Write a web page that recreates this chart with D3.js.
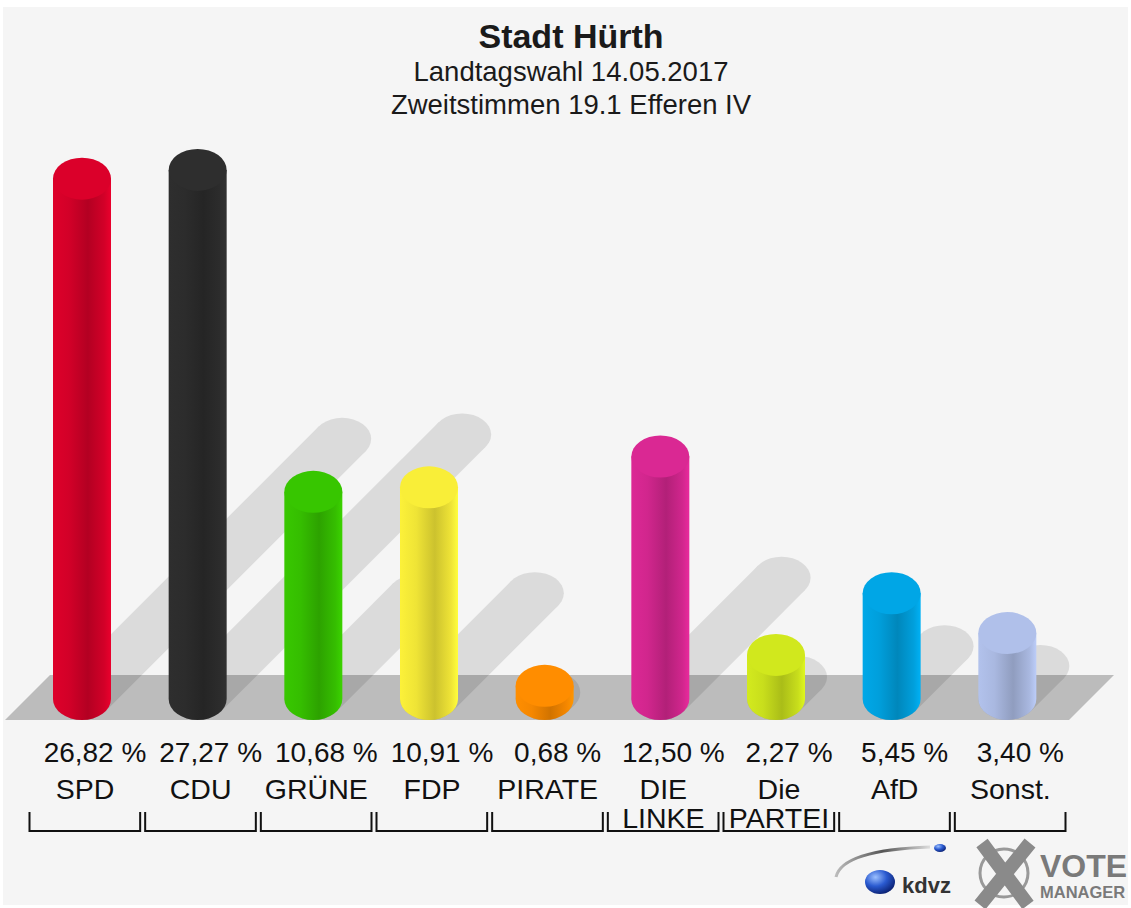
<!DOCTYPE html>
<html>
<head>
<meta charset="utf-8">
<script src="https://cdn.jsdelivr.net/npm/d3@7"></script>
<style>
  html, body { margin: 0; padding: 0; background: #ffffff; }
  svg { display: block; }
  text { font-family: "Liberation Sans", Arial, sans-serif; }
</style>
</head>
<body>
<svg id="chart" width="1131" height="908"></svg>
<script>
// ---- data ----
const parties = ["SPD", "CDU", "GRÜNE", "FDP", "PIRATE", "DIE LINKE", "Die PARTEI", "AfD", "Sonst."];
const labelLines = [["SPD"], ["CDU"], ["GRÜNE"], ["FDP"], ["PIRATE"], ["DIE", "LINKE"], ["Die", "PARTEI"], ["AfD"], ["Sonst."]];
const values = [26.82, 27.27, 10.68, 10.91, 0.68, 12.50, 2.27, 5.45, 3.40];
const colors = ["#d20028", "#2c2c2c", "#35be00", "#efe436", "#f58700", "#d1268d", "#c8de1c", "#009fdc", "#a9b8e0"];
const title = "Stadt Hürth";
const subtitles = ["Landtagswahl 14.05.2017", "Zweitstimmen 19.1 Efferen IV"];

const svg = d3.select("#chart");
const W = 1131, H = 908;

// background panel
svg.append("rect").attr("x", 0).attr("y", 0).attr("width", W).attr("height", H).attr("fill", "#ffffff");
svg.append("rect").attr("x", 3).attr("y", 7).attr("width", 1125).attr("height", 898).attr("fill", "#f5f5f5");

// titles
svg.append("text").attr("x", 571).attr("y", 48).attr("text-anchor", "middle")
  .attr("font-size", 34).attr("font-weight", "bold").attr("fill", "#1a1a1a").text(title);
subtitles.forEach((s, i) => {
  svg.append("text").attr("x", 571).attr("y", 81 + i * 33).attr("text-anchor", "middle")
    .attr("font-size", 27.5).attr("fill", "#1a1a1a").text(s);
});

// scales
const x = d3.scaleBand().domain(parties).range([29, 1070]).padding(0);
const bw = x.bandwidth();
const yBase = 699;
const y = d3.scaleLinear().domain([0, 30]).range([yBase, yBase - 30 * 19.4]);
const rx = 29, ry = 21;
const cx = d => x(d) + 53;

// floor
const floorTop = 675, floorBot = 720;
svg.append("path")
  .attr("d", `M5,${floorBot} L50,${floorTop} L1114,${floorTop} L1069,${floorBot} Z`)
  .attr("fill", "#bcbcbc");

// shadows (45 deg, half height)
const defs = svg.append("defs");
const shadowG = svg.append("g").attr("opacity", 0.1);
const t0 = Math.atan(ry / rx);
const px = rx * Math.cos(t0), py = ry * Math.sin(t0);
parties.forEach((p, i) => {
  const c = cx(p);
  const h = yBase - y(values[i]);
  const d = 0.5 * h;
  const ex = c + d, ey = yBase - d;
  shadowG.append("ellipse").attr("cx", c).attr("cy", yBase).attr("rx", rx).attr("ry", ry).attr("fill", "#000");
  shadowG.append("ellipse").attr("cx", ex).attr("cy", ey).attr("rx", rx).attr("ry", ry).attr("fill", "#000");
  shadowG.append("path")
    .attr("d", `M${c + px},${yBase + py} L${ex + px},${ey + py} L${ex - px},${ey - py} L${c - px},${yBase - py} Z`)
    .attr("fill", "#000");
});

// gradients
parties.forEach((p, i) => {
  const base = d3.color(colors[i]);
  const g = defs.append("linearGradient").attr("id", "grad" + i)
    .attr("x1", 0).attr("x2", 1).attr("y1", 0).attr("y2", 0);
  g.append("stop").attr("offset", 0).attr("stop-color", base.brighter(0.15));
  g.append("stop").attr("offset", 0.28).attr("stop-color", base);
  g.append("stop").attr("offset", 0.6).attr("stop-color", base.darker(0.45));
  g.append("stop").attr("offset", 0.88).attr("stop-color", base);
  g.append("stop").attr("offset", 1).attr("stop-color", base.brighter(0.3));
});

// cylinders
parties.forEach((p, i) => {
  const c = cx(p);
  const yt = y(values[i]);
  svg.append("path")
    .attr("d", `M${c - rx},${yt} L${c - rx},${yBase} A${rx},${ry} 0 0 0 ${c + rx},${yBase} L${c + rx},${yt} Z`)
    .attr("fill", `url(#grad${i})`);
  svg.append("ellipse").attr("cx", c).attr("cy", yt).attr("rx", rx).attr("ry", ry)
    .attr("fill", d3.color(colors[i]).brighter(0.12));
});

// value labels
parties.forEach((p, i) => {
  svg.append("text").attr("x", x(p) + 66).attr("y", 762).attr("text-anchor", "middle")
    .attr("font-size", 28).attr("fill", "#111")
    .text(values[i].toFixed(2).replace(".", ",") + " %");
});

// category labels
parties.forEach((p, i) => {
  labelLines[i].forEach((ln, j) => {
    svg.append("text").attr("x", x(p) + 56).attr("y", 799 + j * 29).attr("text-anchor", "middle")
      .attr("font-size", 28.5).attr("fill", "#111").text(ln);
  });
});

// brackets
parties.forEach(p => {
  const a = x(p) + 0.5, b = x(p) + bw - 4.5;
  svg.append("path").attr("d", `M${a},812 L${a},831 L${b},831 L${b},812`)
    .attr("fill", "none").attr("stroke", "#111").attr("stroke-width", 2);
});

// logos
const lg = svg.append("g");
const sg = defs.append("linearGradient").attr("id", "swoosh").attr("x1", 0).attr("x2", 1);
sg.append("stop").attr("offset", 0).attr("stop-color", "#bbb");
sg.append("stop").attr("offset", 0.5).attr("stop-color", "#555");
sg.append("stop").attr("offset", 1).attr("stop-color", "#ddd");
lg.append("path").attr("d", "M836,877 Q842,850 930,847").attr("fill", "none")
  .attr("stroke", "url(#swoosh)").attr("stroke-width", 3);
const rg = defs.append("radialGradient").attr("id", "sphere").attr("cx", 0.35).attr("cy", 0.3).attr("r", 0.75);
rg.append("stop").attr("offset", 0).attr("stop-color", "#9cc0ff");
rg.append("stop").attr("offset", 0.5).attr("stop-color", "#2a5ad0");
rg.append("stop").attr("offset", 1).attr("stop-color", "#0a1f70");
lg.append("ellipse").attr("cx", 880).attr("cy", 882).attr("rx", 15).attr("ry", 12).attr("fill", "url(#sphere)");
lg.append("ellipse").attr("cx", 940).attr("cy", 848).attr("rx", 6).attr("ry", 4).attr("fill", "url(#sphere)");
lg.append("text").attr("x", 902).attr("y", 893).attr("font-family", "Liberation Serif, serif")
  .attr("font-weight", "bold").attr("font-size", 22).attr("fill", "#333").text("kdvz");
lg.append("circle").attr("cx", 1004).attr("cy", 873).attr("r", 24).attr("fill", "none")
  .attr("stroke", "#999").attr("stroke-width", 3);
lg.append("path").attr("d", "M982,843 L1028,905 M1030,843 L980,905").attr("stroke", "#8a8a8a")
  .attr("stroke-width", 14).attr("fill", "none");
lg.append("text").attr("x", 1040).attr("y", 877).attr("font-weight", "bold").attr("font-size", 32)
  .attr("fill", "#7a7a7a").text("VOTE");
lg.append("text").attr("x", 1040).attr("y", 898).attr("font-weight", "bold").attr("font-size", 16.5)
  .attr("fill", "#7a7a7a").text("MANAGER");
</script>
</body>
</html>
